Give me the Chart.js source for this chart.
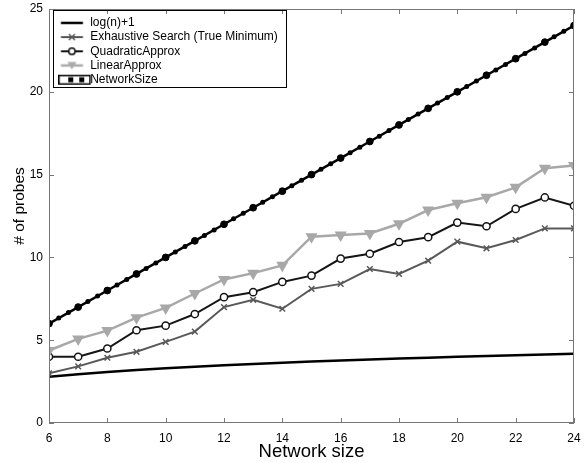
<!DOCTYPE html>
<html><head><meta charset="utf-8">
<script src="https://cdn.jsdelivr.net/npm/chart.js@4/dist/chart.umd.min.js"></script>
<style>html,body{margin:0;padding:0;background:#fff}</style>
</head><body>
<canvas id="c" width="584" height="463" style="width:584px;height:463px;display:block"></canvas>
<script>
const networkSizes = [6,7,8,9,10,11,12,13,14,15,16,17,18,19,20,21,22,23,24];
const logN1 = [2.79,2.95,3.08,3.20,3.30,3.40,3.48,3.56,3.64,3.71,3.77,3.83,3.89,3.94,4.00,4.04,4.09,4.14,4.18];
const exhaustive = [3.0,3.42,3.94,4.3,4.9,5.52,7.0,7.44,6.9,8.1,8.4,9.3,9.0,9.8,10.95,10.55,11.05,11.75,11.75];
const quadratic = [4.0,4.0,4.5,5.6,5.88,6.58,7.6,7.9,8.52,8.9,9.93,10.22,10.93,11.22,12.1,11.88,12.93,13.62,13.12];
const linearApprox = [4.38,5.08,5.58,6.36,6.95,7.82,8.67,9.05,9.52,11.25,11.35,11.45,12.03,12.86,13.27,13.63,14.23,15.38,15.55];
const networkSizeProbes = [6,7,8,9,10,11,12,13,14,15,16,17,18,19,20,21,22,23,24];
const seriesNames = ['log(n)+1','Exhaustive Search (True Minimum)','QuadraticApprox','LinearApprox','NetworkSize'];
const xTicks = [6,8,10,12,14,16,18,20,22,24];
const yTicks = [0,5,10,15,20,25];
const xTitle = 'Network size';
const yTitle = '# of probes';

function pts(ys){ return networkSizes.map((x,i)=>({x:x,y:ys[i]})); }

function legendIcon(kind){
  const c=document.createElement('canvas'); c.width=48; c.height=14;
  const g=c.getContext('2d'); const cy=7; const a=12.7, b=34.7, m=23.7;
  g.lineCap='butt';
  if(kind===0){ g.strokeStyle='#000'; g.lineWidth=2.5; g.beginPath(); g.moveTo(a,cy); g.lineTo(b,cy); g.stroke(); }
  if(kind===1){ g.strokeStyle='#555'; g.lineWidth=2; g.beginPath(); g.moveTo(a,cy); g.lineTo(b,cy); g.stroke();
    g.lineWidth=1.5; g.beginPath(); g.moveTo(m-3,cy-3); g.lineTo(m+3,cy+3); g.moveTo(m+3,cy-3); g.lineTo(m-3,cy+3); g.stroke(); }
  if(kind===2){ g.strokeStyle='#111'; g.lineWidth=2; g.beginPath(); g.moveTo(a,cy); g.lineTo(b,cy); g.stroke();
    g.lineWidth=1.5; g.fillStyle='#fff'; g.beginPath(); g.arc(m,cy,3.2,0,Math.PI*2); g.fill(); g.stroke(); }
  if(kind===3){ g.strokeStyle='#aaa'; g.lineWidth=2.5; g.beginPath(); g.moveTo(a,cy); g.lineTo(b,cy); g.stroke();
    g.fillStyle='#aaa'; g.beginPath(); g.moveTo(m-4.5,cy-3.5); g.lineTo(m+4.5,cy-3.5); g.lineTo(m,cy+4); g.closePath(); g.fill(); }
  if(kind===4){ g.fillStyle='#000'; g.fillRect(6,2,5,10); g.strokeStyle='#000'; g.lineWidth=1.5; g.strokeRect(10.75,2.75,31,8.5);
    g.fillRect(20,4.5,5,5); g.fillRect(31,4.5,5,5); }
  return c;
}
const icons=[0,1,2,3,4].map(legendIcon);

const framePlugin = {
  id:'frame',
  afterLayout(chart){
    const lg=chart.legend; if(!lg) return;
    lg.left=58; lg.top=14.7; lg.right=320; lg.bottom=140;
    lg.width=lg.right-lg.left; lg.height=lg.bottom-lg.top;
  },
  afterDatasetsDraw(chart){
    const {ctx, chartArea:a, scales} = chart;
    ctx.save();
    ctx.strokeStyle='#777'; ctx.lineWidth=1;
    ctx.strokeRect(a.left+0.5,a.top+0.5,a.right-a.left-1,a.bottom-a.top-1);
    ctx.beginPath();
    xTicks.forEach(v=>{ const px=Math.round(scales.x.getPixelForValue(v))+0.5;
      ctx.moveTo(px,a.bottom); ctx.lineTo(px,a.bottom-5); ctx.moveTo(px,a.top); ctx.lineTo(px,a.top+5); });
    yTicks.forEach(v=>{ const py=Math.round(scales.y.getPixelForValue(v))+0.5;
      ctx.moveTo(a.left,py); ctx.lineTo(a.left+5,py); ctx.moveTo(a.right,py); ctx.lineTo(a.right-5,py); });
    ctx.stroke();
    // y axis title
    ctx.fillStyle='#000'; ctx.font='15.5px "Liberation Sans"';
    ctx.textAlign='center'; ctx.textBaseline='middle';
    ctx.translate(20,206); ctx.rotate(-Math.PI/2); ctx.fillText(yTitle,0,0);
    ctx.restore();
  },
  afterDraw(chart){
    const lg=chart.legend; if(!lg||!lg.legendHitBoxes||!lg.legendHitBoxes.length) return;
    let x1=-Infinity;
    lg.legendHitBoxes.forEach(b=>{x1=Math.max(x1,b.left+b.width);});
    const ctx=chart.ctx; ctx.save(); ctx.strokeStyle='#000'; ctx.lineWidth=1;
    ctx.strokeRect(53.5,10.5,Math.round(x1+8)-53,77);
    ctx.restore();
  }
};

new Chart(document.getElementById('c'),{
  type:'line',
  data:{datasets:[
    {label:seriesNames[0],data:pts(logN1),borderColor:'#000',borderWidth:2.5,pointRadius:0,order:5},
    {label:seriesNames[1],data:pts(exhaustive),borderColor:'#595959',borderWidth:2,pointStyle:'crossRot',pointRadius:4,pointBorderWidth:1.5,pointBorderColor:'#595959',order:4},
    {label:seriesNames[2],data:pts(quadratic),borderColor:'#151515',borderWidth:2,pointStyle:'circle',pointRadius:3.6,pointBorderWidth:1.5,pointBorderColor:'#151515',pointBackgroundColor:'#fff',order:3},
    {label:seriesNames[3],data:pts(linearApprox),borderColor:'#a8a8a8',borderWidth:2.5,pointStyle:'triangle',rotation:180,pointRadius:4.5,pointBackgroundColor:'#a8a8a8',pointBorderColor:'#a8a8a8',order:2},
    {label:seriesNames[4],data:pts(networkSizeProbes),borderColor:'#000',borderWidth:2.5,pointStyle:'circle',pointRadius:3.4,pointBorderWidth:1,pointBackgroundColor:'#000',pointBorderColor:'#000',order:1},
    {label:'_dots',data:pts(networkSizeProbes),borderColor:'#000',borderWidth:5,borderDash:[0,11.17],borderCapStyle:'round',pointRadius:0,order:0}
  ]},
  options:{
    responsive:false, animation:false, devicePixelRatio:1,
    layout:{padding:{top:9,right:10,left:0,bottom:0}},
    scales:{
      x:{type:'linear',min:6,max:24,
        border:{display:false},
        grid:{display:false,drawTicks:false,tickLength:0},
        afterBuildTicks(s){ s.ticks = xTicks.map(v=>({value:v})); },
        ticks:{color:'#000',font:{family:'Liberation Sans',size:12},padding:8,maxRotation:0},
        title:{display:true,text:xTitle,color:'#000',font:{family:'Liberation Sans',size:18.5},padding:{top:0,bottom:0}},
        afterFit(s){ s.height=40; s.paddingLeft=0; s.paddingRight=0; }
      },
      y:{min:0,max:25,
        border:{display:false},
        grid:{display:false,drawTicks:false,tickLength:0},
        afterBuildTicks(s){ s.ticks = yTicks.map(v=>({value:v})); },
        ticks:{color:'#000',font:{family:'Liberation Sans',size:12},padding:6},
        title:{display:false},
        afterFit(s){ s.width=49; s.paddingTop=0; s.paddingBottom=0; }
      }
    },
    plugins:{
      legend:{position:'chartArea',align:'start',
        labels:{color:'#000',font:{family:'Liberation Sans',size:12},usePointStyle:true,pointStyleWidth:24,boxHeight:12,padding:2.2,
          generateLabels(chart){
            return chart.data.datasets.map((d,i)=>({text:d.label,pointStyle:icons[i],datasetIndex:i,hidden:false,lineWidth:0,fillStyle:'#000',strokeStyle:'#000'})).filter(it=>it.text!=='_dots');
          }}
      },
      tooltip:{enabled:false}
    }
  },
  plugins:[framePlugin]
});
</script>
</body></html>
